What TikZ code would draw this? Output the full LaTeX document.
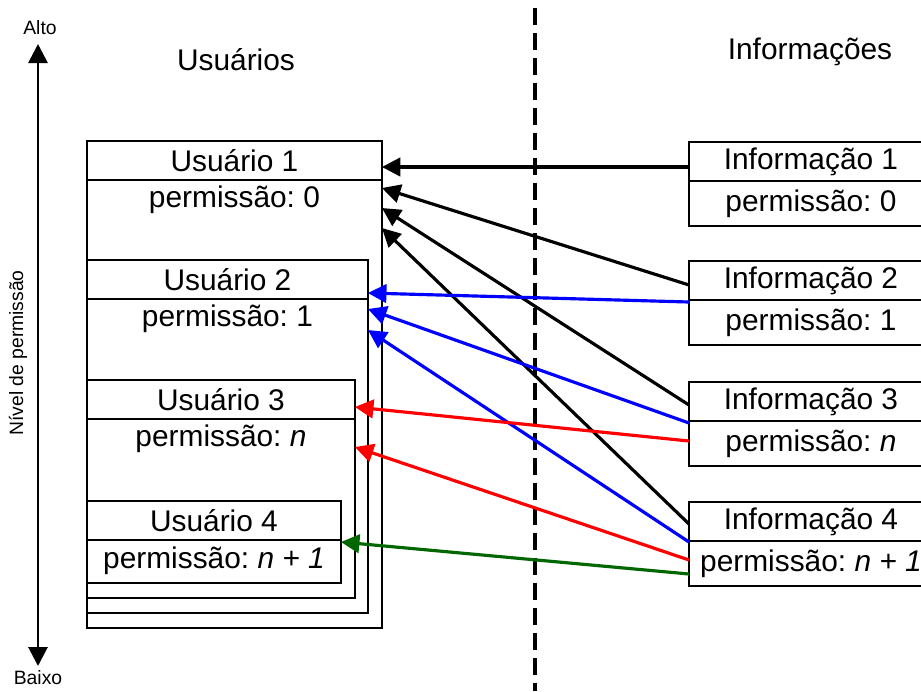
\documentclass[tikz,border=0pt]{standalone}
\usepackage{fontspec}
\setmainfont{Liberation Sans}
\frenchspacing
\usetikzlibrary{arrows.meta,positioning,calc}

\begin{document}
\begin{tikzpicture}[x=0.02cm,y=-0.02cm,
    box/.style ={draw, line width=1.4pt, inner sep=0pt, outer sep=0pt, anchor=north west},
    head/.style ={box, minimum height=0.78cm, font=\fontsize{17}{20}\selectfont},
    infohead/.style ={head, minimum width=4.88cm},
    infoperm/.style ={head, minimum width=4.88cm, minimum height=0.9cm},
    permtext/.style ={inner sep=0pt, font=\fontsize{17}{20}\selectfont},
    small/.style ={inner sep=0pt, font=\fontsize{11}{13}\selectfont},
    link/.style ={line width=1.8pt, -{Triangle[length=0.37cm,width=0.37cm]}}]
   \clip (0,0) rectangle (921,691);
   % usuarios
   \node[box, minimum width=5.9cm, minimum height=9.74cm] (u1) at (87,141) {};
   \node[head, minimum width=5.9cm] (u1h) at (u1.north west) {Usuário 1};
   \node[permtext] (u1p) at ($(u1h.south)+(0,20)$) {permissão: 0};
   \node[box, minimum width=5.62cm, minimum height=7.06cm] (u2) at (87,260) {};
   \node[head, minimum width=5.62cm] (u2h) at (u2.north west) {Usuário 2};
   \node[permtext] (u2p) at ($(u2h.south)+(0,20)$) {permissão: 1};
   \node[box, minimum width=5.36cm, minimum height=4.36cm] (u3) at (87,380) {};
   \node[head, minimum width=5.36cm] (u3h) at (u3.north west) {Usuário 3};
   \node[permtext] (u3p) at ($(u3h.south)+(0,20)$) {permissão: \textit{n}};
   \node[box, minimum width=5.08cm, minimum height=1.64cm] (u4) at (87,501) {};
   \node[head, minimum width=5.08cm] (u4h) at (u4.north west) {Usuário 4};
   \node[permtext] (u4p) at ($(u4h.south)+(0,21)$) {permissão: \textit{n + 1}};
   % informacoes
   \node[infohead] (i1h) at (689,142) {Informação 1};
   \node[infoperm] (i1p) at (i1h.south west) {permissão: 0};
   \node[infohead] (i2h) at (689,261) {Informação 2};
   \node[infoperm] (i2p) at (i2h.south west) {permissão: 1};
   \node[infohead] (i3h) at (689,382) {Informação 3};
   \node[infoperm] (i3p) at (i3h.south west) {permissão: \textit{n}};
   \node[infohead] (i4h) at (689,502) {Informação 4};
   \node[infoperm] (i4p) at (i4h.south west) {permissão: \textit{n + 1}};
   % titulos
   \node[permtext] (tu) at (236,60) {Usuários};
   \node[permtext] (ti) at (810,52) {Informações};
   \node[small] (alto) at (40,28) {Alto};
   \node[small] (baixo) at (38,678) {Baixo};
   \node[small, rotate=90] (nivel) at (18,353) {Nível de permissão};
   \coordinate (topo) at (38,44);
   \coordinate (base) at (38,666);
   \draw[line width=1.6pt, {Triangle[length=0.38cm,width=0.38cm]}-{Triangle[length=0.38cm,width=0.38cm]}] (topo) -- (base);
   \coordinate (d1) at (535,8);
   \coordinate (d2) at (535,691);
   \draw[line width=2pt, dash pattern=on 0.34cm off 0.16cm] (d1) -- (d2);
   % permissoes
   \draw[link] ($(i1h.north west)+(0,25)$) -- ($(u1.north east)+(0,26)$);
   \draw[link] ($(i2h.north west)+(0,24)$) -- ($(u1.north east)+(0,47)$);
   \draw[link] ($(i3h.north west)+(0,23)$) -- ($(u1.north east)+(0,67)$);
   \draw[link] ($(i4h.north west)+(0,22)$) -- ($(u1.north east)+(0,87)$);
   \draw[link, blue] ($(i2h.north west)+(0,41)$) -- ($(u2.north east)+(0,33)$);
   \draw[link, blue] ($(i3h.north west)+(0,41)$) -- ($(u2.north east)+(0,49)$);
   \draw[link, blue] ($(i4h.north west)+(0,40)$) -- ($(u2.north east)+(0,70)$);
   \draw[link, red] ($(i3h.north west)+(0,59)$) -- ($(u3.north east)+(0,27)$);
   \draw[link, red] ($(i4h.north west)+(0,58)$) -- ($(u3.north east)+(0,67)$);
   \draw[link, green!40!black] ($(i4h.north west)+(0,72)$) -- ($(u4.north east)+(0,41)$);
 \end{tikzpicture}
\end{document}
